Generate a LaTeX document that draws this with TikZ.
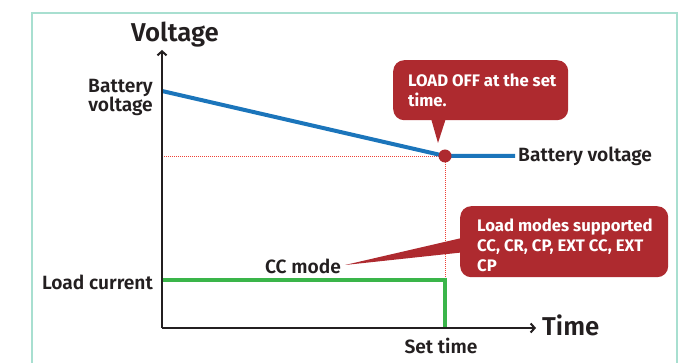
\documentclass[tikz,border=0pt]{standalone}
\usepackage{fontspec}
\setmainfont{Fira Sans}
\newfontfamily\semib{Fira Sans SemiBold}
\usetikzlibrary{arrows.meta}
\definecolor{axisc}{HTML}{231F20}
\definecolor{vblue}{HTML}{1B75BB}
\definecolor{cgreen}{HTML}{3AB54A}
\definecolor{calred}{HTML}{AE2A2F}
\definecolor{dotred}{HTML}{EF4136}
\definecolor{framec}{HTML}{A8DFD0}
\begin{document}
\begin{tikzpicture}[x=1pt,y=-1pt,
  lbl/.style={font=\semib\fontsize{19.2}{19}\selectfont, text=axisc, inner sep=0pt},
  big/.style={font=\semib\fontsize{25.8}{26}\selectfont, text=axisc, inner sep=0pt},
  calbox/.style={fill=calred, rounded corners=11pt, inner sep=0pt, draw=none},
  caltext/.style={font=\bfseries\fontsize{16.7}{20}\selectfont, text=white, align=left, inner sep=0pt, anchor=base west},
  axisline/.style={draw=axisc, line width=2.4pt, -{Straight Barb[length=4pt,width=9pt,line width=2pt]}},
  guide/.style={draw=dotred, line width=0.9pt, dash pattern=on 1pt off 1pt},
  curve/.style={line width=4pt}
]
\useasboundingbox (0,0) rectangle (685,363);
% frame
\draw[framec, line width=1.5pt] (32,370) -- (32,13) -- (677,13) -- (677,370);

% coordinates
\coordinate (origin) at (162,328);
\coordinate (ytip) at (162,50);
\coordinate (xtip) at (536,328);
\coordinate (vstart) at (162,91);
\coordinate (vend) at (515,156);
\coordinate (vlevel) at (162,156);
\coordinate (istart) at (162,280);
\coordinate (icorner) at (445,280);
\coordinate (iend) at (445,328);

% guides
\draw[guide] (vlevel) -- (445,156);
\draw[guide] (445,156) -- (icorner);

% curves
\draw[vblue, curve] (vstart) -- (445,156) -- (vend);
\draw[cgreen, curve] (istart) -- (icorner) -- (iend);

% axes
\draw[axisline] (origin) -- (ytip);
\draw[axisline] (162,328) -- (xtip);

\node[circle, fill=calred, minimum size=13pt, inner sep=0pt] (dot) at (445,156) {};

% labels
\node[big, anchor=base] (voltage) at (175,42) {Voltage};
\node[big, anchor=base west] (time) at (542,335) {Time};
\node[lbl, align=right, anchor=base east] (bv) at (153,112) {Battery\\voltage};
\node[lbl, anchor=base west] (bv2) at (518,162) {Battery voltage};
\node[lbl, anchor=base east] (lc) at (153,289) {Load current};
\node[lbl, anchor=base] (cc) at (303,274) {CC mode};
\node[lbl, anchor=base] (st) at (441,353) {Set time};

% callout 1
\node[calbox, minimum width=175pt, minimum height=60pt, anchor=north west] (c1) at (393,60) {};
\coordinate (t1) at (438,143);
\fill[calred] (430,115) -- (t1) -- (447,115) -- cycle;
\node[caltext] (c1t) at (408,107) {LOAD OFF at the set\\time.};

% callout 2
\node[calbox, minimum width=208pt, minimum height=71pt, anchor=north west] (c2) at (460,206) {};
\coordinate (t2) at (345,265);
\fill[calred] (466,237) -- (t2) -- (466,252) -- cycle;
\node[caltext] (c2t) at (477,272) {Load modes supported\\CC, CR, CP, EXT CC, EXT\\CP};
\end{tikzpicture}
\end{document}
